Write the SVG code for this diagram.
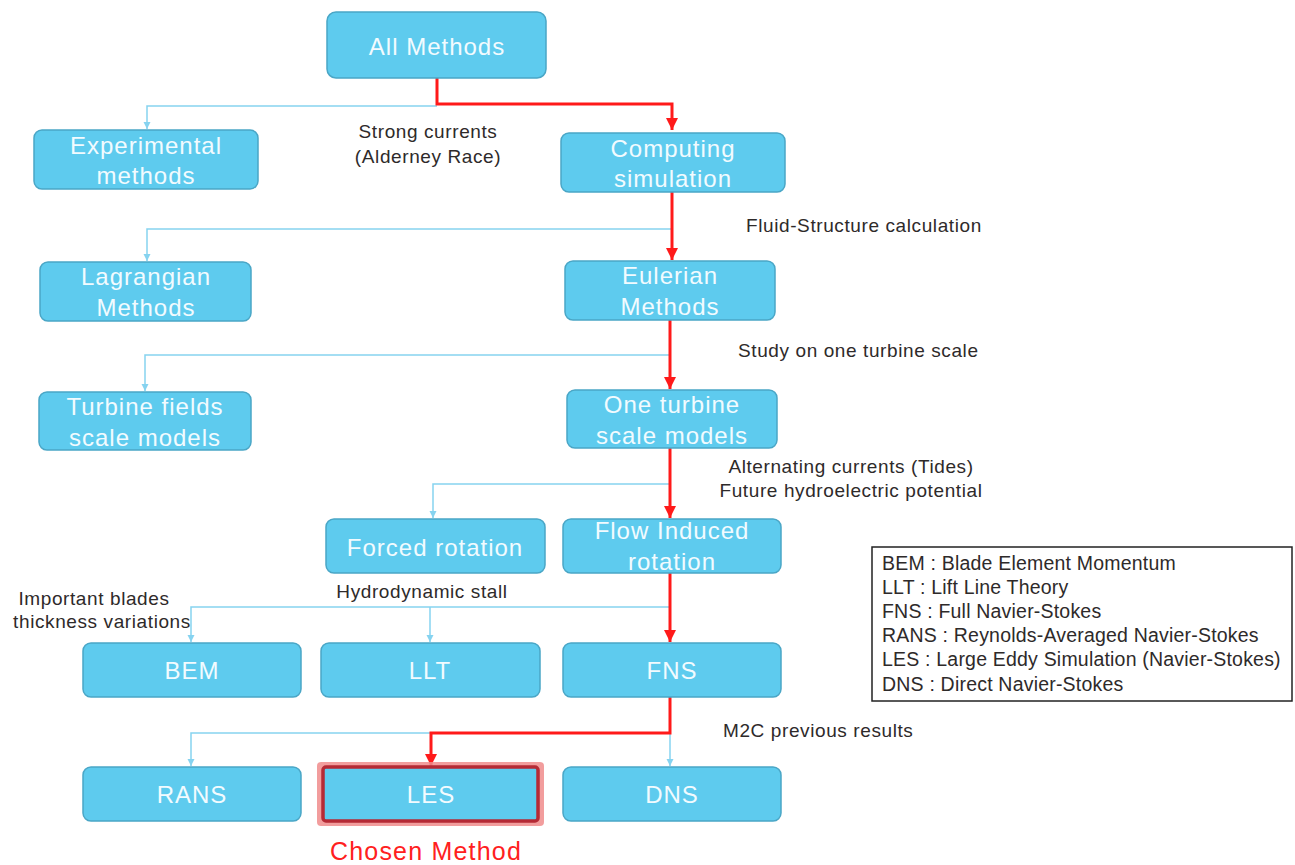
<svg xmlns="http://www.w3.org/2000/svg" width="1295" height="865" viewBox="0 0 1295 865">
<defs>
<style>
.node rect{fill:#5ecbee;stroke:#4aa6c6;stroke-width:1.5}
.nt{font-family:"Liberation Sans",Arial,sans-serif;font-size:24px;letter-spacing:1px;fill:#f2fbff;text-anchor:middle}
.lbl{font-family:"Liberation Sans",Arial,sans-serif;font-size:19px;letter-spacing:0.6px;fill:#2e2a2a}
.leg{font-family:"Liberation Sans",Arial,sans-serif;font-size:19.5px;letter-spacing:0.2px;fill:#2e2a2a}
.red{fill:none;stroke:#ff1a1a;stroke-width:3}
.blue{fill:none;stroke:#86d3f0;stroke-width:1.5}
</style>
<marker id="ra" viewBox="0 0 10 10" refX="10" refY="5" markerWidth="4" markerHeight="4" orient="auto" markerUnits="strokeWidth"><path d="M0,0L10,5L0,10z" fill="#ff1a1a"/></marker>
<marker id="ba" viewBox="0 0 10 10" refX="10" refY="5" markerWidth="5" markerHeight="5" orient="auto" markerUnits="strokeWidth"><path d="M0,0L10,5L0,10z" fill="#86d3f0"/></marker>
</defs>
<rect width="1295" height="865" fill="#fff"/>
<g id="connectors">
<path class="blue" d="M437,106H147V129" marker-end="url(#ba)"/>
<path class="red" d="M437,78V104H672V130" marker-end="url(#ra)"/>
<path class="blue" d="M672,229H147V261" marker-end="url(#ba)"/>
<path class="red" d="M672,192V260" marker-end="url(#ra)"/>
<path class="blue" d="M670,355H145V391" marker-end="url(#ba)"/>
<path class="red" d="M670,320V389" marker-end="url(#ra)"/>
<path class="blue" d="M670,484H433V518" marker-end="url(#ba)"/>
<path class="red" d="M670,448V518" marker-end="url(#ra)"/>
<path class="blue" d="M670,607H191V642" marker-end="url(#ba)"/>
<path class="blue" d="M430,607V642" marker-end="url(#ba)"/>
<path class="red" d="M670,573V642" marker-end="url(#ra)"/>
<path class="blue" d="M431,733H191V766" marker-end="url(#ba)"/>
<path class="blue" d="M670,733V766" marker-end="url(#ba)"/>
<path class="red" d="M670,697V733H431V766" marker-end="url(#ra)"/>
</g>
<g id="labels">
<text class="lbl" x="428" y="138" text-anchor="middle">Strong currents</text>
<text class="lbl" x="428" y="163" text-anchor="middle">(Alderney Race)</text>
<text class="lbl" x="746" y="232">Fluid-Structure calculation</text>
<text class="lbl" x="738" y="357">Study on one turbine scale</text>
<text class="lbl" x="851" y="473" text-anchor="middle">Alternating currents (Tides)</text>
<text class="lbl" x="851" y="497" text-anchor="middle">Future hydroelectric potential</text>
<text class="lbl" x="422" y="598" text-anchor="middle">Hydrodynamic stall</text>
<text class="lbl" x="94" y="605" text-anchor="middle">Important blades</text>
<text class="lbl" x="102" y="628" text-anchor="middle">thickness variations</text>
<text class="lbl" x="723" y="737">M2C previous results</text>
</g>
<g id="n-all" class="node"><rect x="327" y="12" width="219" height="66" rx="9"/><text class="nt" x="437" y="55">All Methods</text></g>
<g id="n-exp" class="node"><rect x="34" y="130" width="224" height="59" rx="8"/><text class="nt" x="146" y="154">Experimental</text><text class="nt" x="146" y="184">methods</text></g>
<g id="n-comp" class="node"><rect x="561" y="133" width="224" height="59" rx="8"/><text class="nt" x="673" y="157">Computing</text><text class="nt" x="673" y="187">simulation</text></g>
<g id="n-lag" class="node"><rect x="40" y="262" width="211" height="59" rx="8"/><text class="nt" x="146" y="285">Lagrangian</text><text class="nt" x="146" y="316">Methods</text></g>
<g id="n-eul" class="node"><rect x="565" y="261" width="210" height="59" rx="8"/><text class="nt" x="670" y="284">Eulerian</text><text class="nt" x="670" y="315">Methods</text></g>
<g id="n-tf" class="node"><rect x="39" y="392" width="212" height="58" rx="8"/><text class="nt" x="145" y="415">Turbine fields</text><text class="nt" x="145" y="446">scale models</text></g>
<g id="n-ot" class="node"><rect x="567" y="390" width="210" height="58" rx="8"/><text class="nt" x="672" y="413">One turbine</text><text class="nt" x="672" y="444">scale models</text></g>
<g id="n-forced" class="node"><rect x="326" y="519" width="219" height="54" rx="8"/><text class="nt" x="435" y="556">Forced rotation</text></g>
<g id="n-flow" class="node"><rect x="563" y="519" width="218" height="54" rx="8"/><text class="nt" x="672" y="539">Flow Induced</text><text class="nt" x="672" y="570">rotation</text></g>
<g id="n-bem" class="node"><rect x="83" y="643" width="218" height="54" rx="8"/><text class="nt" x="192" y="679">BEM</text></g>
<g id="n-llt" class="node"><rect x="321" y="643" width="219" height="54" rx="8"/><text class="nt" x="430" y="679">LLT</text></g>
<g id="n-fns" class="node"><rect x="563" y="643" width="218" height="54" rx="8"/><text class="nt" x="672" y="679">FNS</text></g>
<g id="n-rans" class="node"><rect x="83" y="767" width="218" height="54" rx="8"/><text class="nt" x="192" y="803">RANS</text></g>
<g id="n-les"><rect x="317" y="762" width="227" height="64" rx="4" fill="#f08c8c" opacity="0.85"/><rect x="323" y="767" width="215" height="54" rx="3" fill="#5ecbee" stroke="#b52a35" stroke-width="3.5"/><text class="nt" x="431" y="803">LES</text></g>
<g id="n-dns" class="node"><rect x="563" y="767" width="218" height="54" rx="8"/><text class="nt" x="672" y="803">DNS</text></g>
<text x="426" y="860" text-anchor="middle" font-family="Liberation Sans,Arial,sans-serif" font-size="25" letter-spacing="1.2" fill="#ff2020">Chosen Method</text>
<g id="legend">
<rect x="872" y="547" width="420" height="154" fill="#fff" stroke="#222" stroke-width="1.5"/>
<text class="leg" x="882" y="570">BEM : Blade Element Momentum</text>
<text class="leg" x="882" y="594">LLT : Lift Line Theory</text>
<text class="leg" x="882" y="618">FNS : Full Navier-Stokes</text>
<text class="leg" x="882" y="642">RANS : Reynolds-Averaged Navier-Stokes</text>
<text class="leg" x="882" y="666">LES : Large Eddy Simulation (Navier-Stokes)</text>
<text class="leg" x="882" y="691">DNS : Direct Navier-Stokes</text>
</g>
</svg>
